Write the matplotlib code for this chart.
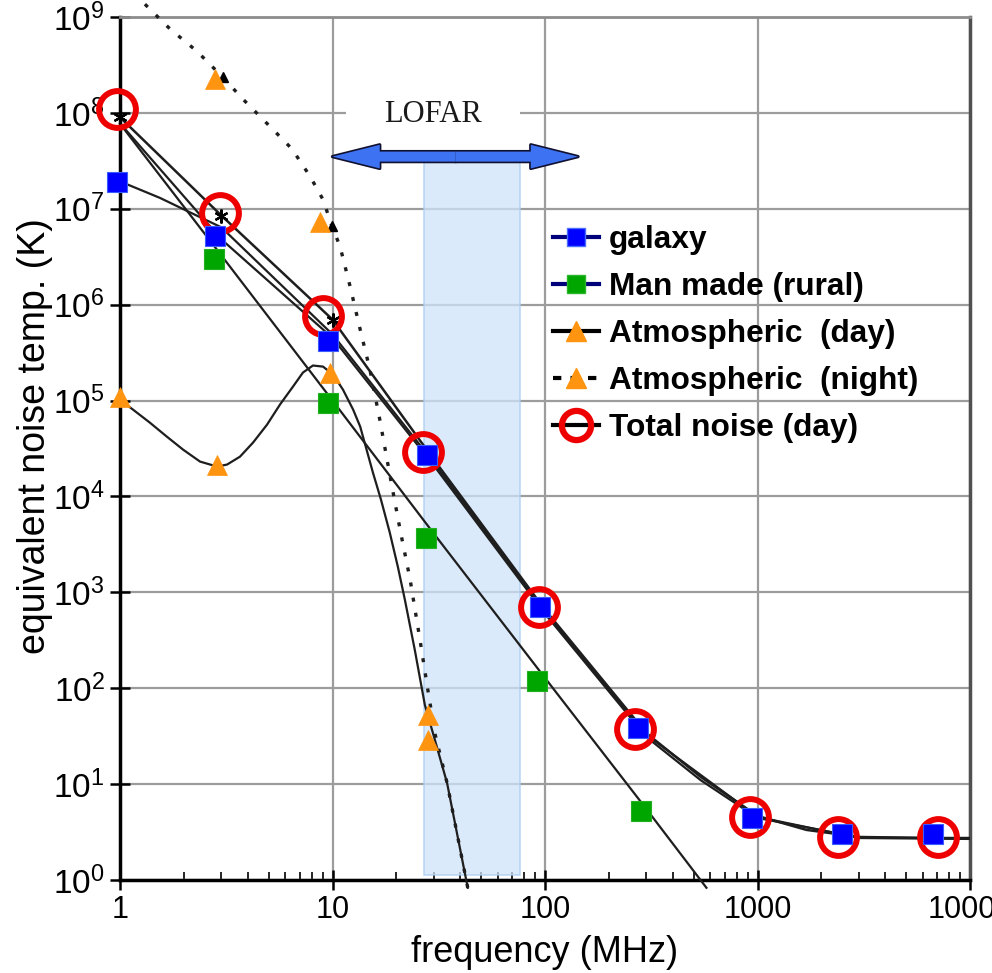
import matplotlib
matplotlib.use("Agg")
import matplotlib.pyplot as plt
from matplotlib import font_manager as fm
from matplotlib.lines import Line2D
from matplotlib.patches import Rectangle, FancyArrowPatch
from matplotlib.ticker import NullLocator, FixedLocator, FixedFormatter, LogLocator

_names = {f.name for f in fm.fontManager.ttflist}
HAS_NARROW = 'Liberation Sans Narrow' in _names
TICKFONT = 'Liberation Sans Narrow' if HAS_NARROW else 'Liberation Sans'
XTICK_SIZE = 25.5 if HAS_NARROW else 22
YTICK_SIZE = 28 if HAS_NARROW else 24

plt.rcParams['font.family'] = ['Liberation Sans', 'DejaVu Sans']
plt.rcParams['mathtext.fontset'] = 'custom'
plt.rcParams['mathtext.rm'] = TICKFONT
plt.rcParams['mathtext.it'] = TICKFONT
plt.rcParams['mathtext.bf'] = TICKFONT

# ---------------- data ----------------
freq_ticks = [1, 10, 100, 1000, 10000]
freq_tick_labels = ["1", "10", "100", "1000", "10000"]
temp_ticks = [1e0, 1e1, 1e2, 1e3, 1e4, 1e5, 1e6, 1e7, 1e8, 1e9]
temp_tick_labels = ["$10^0$", "$10^1$", "$10^2$", "$10^3$", "$10^4$",
                    "$10^5$", "$10^6$", "$10^7$", "$10^8$", "$10^9$"]

# curves (black lines)
total_curve_f = [1, 3, 10, 30, 100, 300, 540, 1000, 1700, 3000, 6700, 10000]
total_curve_T = [9.0e7, 8.5e6, 7.0e5, 2.42e4, 658, 34, 11.9, 4.66, 3.33, 2.81, 2.74, 2.74]

galaxy_curve_f = [1.0, 1.54, 2.13, 3.0, 10, 30, 100, 300, 1000, 3000, 10000]
galaxy_curve_T = [1.93e7, 1.3e7, 9.2e6, 6.4e6, 4.9e5, 2.25e4, 627, 32.6, 4.55, 2.74, 2.68]

galaxy_unabs_curve_f = [1, 3, 10, 30, 100, 300, 540, 1000, 3000, 10000]
galaxy_unabs_curve_T = [7.8e7, 4.8e6, 4.5e5, 2.1e4, 598, 31, 11, 4.44, 2.78, 2.72]

manmade_curve_f = [1, 3, 10, 30, 100, 300, 575]
manmade_curve_T = [7.7e7, 3.26e6, 1.0e5, 4.09e3, 128, 5.5, 0.83]

atm_day_curve_f = [1.0, 1.15, 1.38, 1.66, 1.98, 2.38, 2.86, 3.19, 3.67, 4.23, 4.92, 5.66,
                   6.52, 7.26, 8.09, 9.02, 10.06, 11.2, 12.5, 13.5, 15.5, 16.9, 18.6, 20.3,
                   21.9, 24.4, 27.2, 29.7, 34.6, 38.5, 43.3]
atm_day_curve_T = [1.02e5, 8.06e4, 5.9e4, 4.21e4, 3.08e4, 2.31e4, 2.05e4, 2.15e4, 2.6e4,
                   3.65e4, 5.61e4, 9.08e4, 1.4e5, 1.96e5, 2.32e5, 2.26e5, 1.87e5, 1.3e5,
                   8.06e4, 5.35e4, 1.77e4, 9.3e3, 4.2e3, 1.85e3, 840, 250, 67, 34, 10.3,
                   3.1, 0.83]

atm_night_curve_f = [1.31, 1.72, 2.30, 3.05, 3.79, 5.25, 6.45, 7.84, 9.02, 9.95, 10.85, 12.1,
                     13.5, 15.0, 16.7, 18.6, 20.8, 23.2, 25.8, 28.1, 30.4, 34.6, 38.5, 43.3]
atm_night_curve_T = [1.36e9, 7.5e8, 4.4e8, 2.35e8, 1.39e8, 6.7e7, 4.2e7, 2.18e7, 1.25e7,
                     6.55e6, 4.05e6, 1.55e6, 5.5e5, 2.1e5, 6.3e4, 1.69e4, 4.5e3, 1.35e3,
                     320, 96, 33, 10.3, 3.1, 0.83]

# coloured markers
galaxy_pts_f = [0.968, 2.80, 9.52, 27.9, 94.7, 274, 942, 2500, 6700]
galaxy_pts_T = [1.89e7, 5.15e6, 4.13e5, 2.73e4, 707, 38.6, 4.44, 3.02, 3.02]
manmade_pts_f = [2.77, 9.52, 27.5, 91.7, 283]
manmade_pts_T = [3.03e6, 9.5e4, 3.72e3, 119, 5.25]
atm_day_pts_f = [1.0, 2.86, 9.73, 28.1]
atm_day_pts_T = [1.1e5, 2.15e4, 1.96e5, 28.9]
atm_night_pts_f = [2.80, 8.74, 28.1]
atm_night_pts_T = [2.24e8, 7.2e6, 52.8]
total_pts_f = [0.968, 2.95, 9.02, 26.7, 93.7, 265, 922, 2390, 7070]
total_pts_T = [1.09e8, 8.95e6, 7.7e5, 2.94e4, 707, 37.7, 4.55, 2.81, 2.81]

# small black markers on curves
total_star_f = [1, 3, 10]
total_star_T = [9.0e7, 8.5e6, 7.0e5]
night_tri_f = [3.05, 9.95]
night_tri_T = [2.35e8, 6.55e6]

# LOFAR band annotation
lofar_band_f = [26.9, 76.3]
lofar_band_T = [1.13, 3.05e7]
lofar_arrow_f = [10.0, 38.0, 143.0]   # left tip, middle, right tip
lofar_arrow_T = 3.5e7
lofar_label_f = 29.7
lofar_label_T = 0.97e8

legend_labels = ["galaxy", "Man made (rural)", "Atmospheric  (day)",
                 "Atmospheric  (night)", "Total noise (day)"]

# ---------------- styling ----------------
BLUE = '#0000ff'
GREEN = '#00a600'
ORANGE = '#ff9410'
RED = '#ee0000'
LINE = '#1e1e1e'

fig = plt.figure(figsize=(9.92, 9.73), dpi=100)
ax = fig.add_axes([120 / 992, 93 / 973, 850 / 992, 863 / 973])
ax.set_xscale('log')
ax.set_yscale('log')
ax.set_xlim(1, 1e4)
ax.set_ylim(1, 1e9)

ax.grid(True, which='major', color='#9c9c9c', lw=1.6)
ax.set_axisbelow(True)

ax.xaxis.set_major_locator(FixedLocator(freq_ticks))
ax.xaxis.set_major_formatter(FixedFormatter(freq_tick_labels))
ax.xaxis.set_minor_locator(LogLocator(base=10, subs=(2, 3, 4, 5, 6, 7, 8, 9)))
ax.yaxis.set_major_locator(FixedLocator(temp_ticks))
ax.yaxis.set_major_formatter(FixedFormatter(temp_tick_labels))
ax.yaxis.set_minor_locator(NullLocator())

ax.tick_params(axis='x', which='major', direction='inout', length=14, width=1.8,
               labelsize=XTICK_SIZE, pad=4, colors='black')
ax.tick_params(axis='x', which='minor', direction='in', length=6, width=1.2)
ax.tick_params(axis='y', which='major', direction='inout', length=14, width=1.8,
               labelsize=YTICK_SIZE, pad=4)
for lab in ax.get_xticklabels():
    lab.set_family(TICKFONT)

for s in ['left', 'bottom']:
    ax.spines[s].set_linewidth(2.5)
    ax.spines[s].set_color('black')
ax.spines['right'].set_linewidth(2.5)
ax.spines['right'].set_color('#505050')
ax.spines['top'].set_linewidth(2.0)
ax.spines['top'].set_color('#8c8c8c')

# LOFAR band
ax.add_patch(Rectangle((lofar_band_f[0], lofar_band_T[0]),
                       lofar_band_f[1] - lofar_band_f[0],
                       lofar_band_T[1] - lofar_band_T[0],
                       facecolor='#cfe3f9', edgecolor='#a9cdf2', lw=1.2,
                       alpha=0.75, zorder=1.5))

ax.text(lofar_label_f, lofar_label_T, "LOFAR", family=['Liberation Serif', 'DejaVu Serif'],
        fontsize=22, ha='center', va='center', color='#1a1a1a', zorder=1.2,
        bbox=dict(boxstyle='square,pad=1.25', facecolor='white', edgecolor='none'))

arrow_style = 'simple,head_length=3.4,head_width=1.7,tail_width=0.72'
for fc, ec, lw, z in [('#101030', '#101030', 2.4, 6.0), ('#3d73f2', 'none', 0.0, 6.1)]:
    for tip in (lofar_arrow_f[0], lofar_arrow_f[2]):
        ax.add_patch(FancyArrowPatch((lofar_arrow_f[1], lofar_arrow_T), (tip, lofar_arrow_T),
                                     arrowstyle=arrow_style, mutation_scale=10,
                                     facecolor=fc, edgecolor=ec, lw=lw,
                                     shrinkA=0, shrinkB=0, zorder=z))

# curves
ax.plot(manmade_curve_f, manmade_curve_T, color=LINE, lw=1.6, zorder=3, clip_on=False)
ax.plot(galaxy_unabs_curve_f, galaxy_unabs_curve_T, color=LINE, lw=1.6, zorder=3)
ax.plot(galaxy_curve_f, galaxy_curve_T, color=LINE, lw=1.6, zorder=3)
ax.plot(total_curve_f, total_curve_T, color=LINE, lw=1.8, zorder=3)
ax.plot(atm_day_curve_f, atm_day_curve_T, color=LINE, lw=1.6, zorder=3, clip_on=False)
ax.plot(atm_night_curve_f, atm_night_curve_T, color=LINE, lw=2.4,
        ls=(0, (1.2, 3.4)), zorder=3, clip_on=False)

ax.plot(total_star_f, total_star_T, ls='none', marker=(6, 2, 0), ms=10, mew=1.6,
        color='black', zorder=3.5, clip_on=False)
ax.plot(night_tri_f, night_tri_T, ls='none', marker='^', ms=7, color='black', zorder=3.5)

# coloured markers
ax.plot(total_pts_f, total_pts_T, ls='none', marker='o', ms=26.5, mfc='none',
        mec=RED, mew=4.3, zorder=4, clip_on=False)
ax.plot(galaxy_pts_f, galaxy_pts_T, ls='none', marker='s', ms=14, mfc=BLUE,
        mec='#3a5cff', mew=0.8, zorder=5, clip_on=False)
ax.plot(manmade_pts_f, manmade_pts_T, ls='none', marker='s', ms=14, mfc=GREEN,
        mec='#22b022', mew=0.8, zorder=5, clip_on=False)
ax.plot(atm_day_pts_f, atm_day_pts_T, ls='none', marker='^', ms=15, mfc=ORANGE,
        mec=ORANGE, mew=0.5, zorder=5, clip_on=False)
ax.plot(atm_night_pts_f, atm_night_pts_T, ls='none', marker='^', ms=15, mfc=ORANGE,
        mec=ORANGE, mew=0.5, zorder=5, clip_on=False)

# legend
handles = [
    Line2D([], [], color='#00007a', lw=3, marker='s', ms=13, mfc=BLUE, mec='#4a6cff', mew=1),
    Line2D([], [], color='#00007a', lw=3, marker='s', ms=13, mfc=GREEN, mec='#2bb52b', mew=1),
    Line2D([], [], color='black', lw=3, marker='^', ms=15, mfc=ORANGE, mec=ORANGE),
    Line2D([], [], color='black', lw=3, ls=(0, (2, 2.2)), marker='^', ms=15,
           mfc=ORANGE, mec=ORANGE),
    Line2D([], [], color='black', lw=3, marker='o', ms=21, mfc='none', mec=RED, mew=4.5),
]
leg = ax.legend(handles, legend_labels, loc='upper left', bbox_to_anchor=(0.509, 0.759),
                frameon=False, prop=dict(family='Liberation Sans', weight='bold', size=22.8),
                handlelength=1.45, handletextpad=0.33, labelspacing=0.54,
                borderpad=0, borderaxespad=0)
leg.set_zorder(7)

ax.set_xlabel("frequency (MHz)", fontsize=26)
ax.set_ylabel("equivalent noise temp. (K)", fontsize=27)
ax.xaxis.set_label_coords(0.5, -0.084)
ax.xaxis.label.set_va('center')
ax.yaxis.set_label_coords(-0.1, 0.5145)
ax.yaxis.label.set_va('center')
ax.yaxis.label.set_ha('center')

fig.savefig('out.png', dpi=100)
